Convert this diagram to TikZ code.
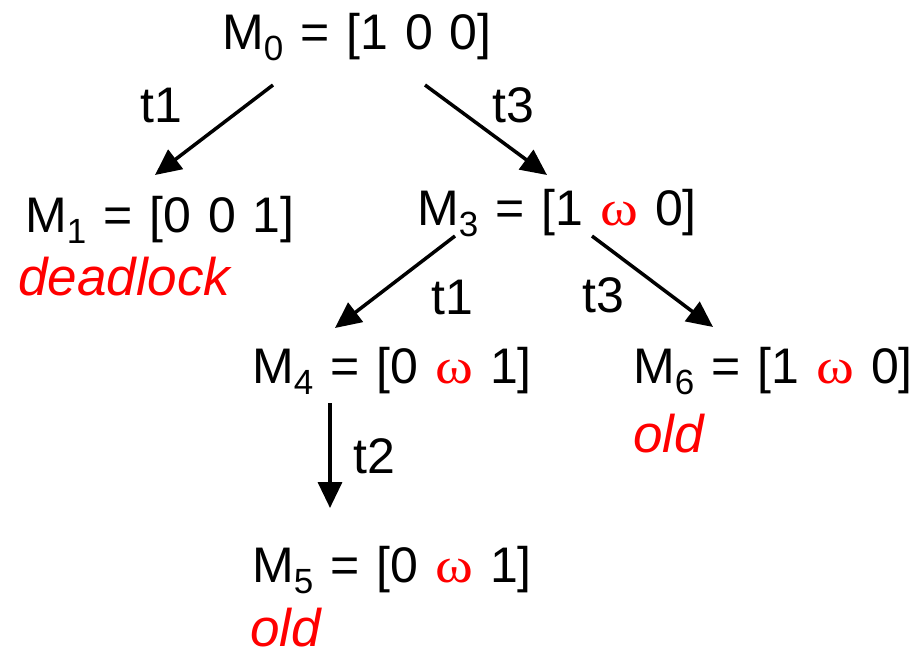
\documentclass[tikz,border=0pt]{standalone}
\usepackage{fontspec}
\setmainfont{Liberation Sans}
\newfontfamily\omegafont{Liberation Serif}
\usetikzlibrary{arrows.meta}

\newcommand{\msub}[1]{\raisebox{-11pt}{\fontsize{35}{35}\selectfont #1}}
\newcommand{\om}{{\color{red}\scalebox{1.15}[1]{\omegafont\fontsize{50}{60}\selectfont ω}}}

\begin{document}
\begin{tikzpicture}[x=1pt, y=-1pt,
    every node/.style={inner sep=0pt, anchor=base west,
      font=\fontsize{50}{60}\selectfont,
      execute at begin node={\spaceskip=17pt\relax}},
    note/.style={text=red, font=\fontsize{53}{60}\selectfont\itshape},
    arr/.style={line width=3.5pt, -{Triangle[length=26pt, width=24pt]}}]
    \useasboundingbox (0,0) rectangle (914,651);

    % Markings
    \node (M0) at (222,49) {M\msub{0} = [1 0 0]};
    \node (M1) at (25,232) {M\msub{1} = [0 0 1]};
    \node[note] (dl) at (18,295) {deadlock};
    \node (M3) at (417,225) {M\msub{3} = [1 \om{} 0]};
    \node (M4) at (252,383) {M\msub{4} = [0 \om{} 1]};
    \node (M6) at (633,383) {M\msub{6} = [1 \om{} 0]};
    \node[note] (old6) at (633,452) {old};
    \node (M5) at (252,582) {M\msub{5} = [0 \om{} 1]};
    \node[note] (old5) at (250,646) {old};

    % Arrow ends
    \coordinate (a0) at (273,85);
    \coordinate (a1) at (155,175);
    \coordinate (b0) at (425,85);
    \coordinate (b1) at (547,175);
    \coordinate (c0) at (455,236);
    \coordinate (c1) at (335,328);
    \coordinate (d0) at (592,236);
    \coordinate (d1) at (713,327);
    \coordinate (e0) at (330,403);
    \coordinate (e1) at (330,508);

    % Transitions
    \draw[arr] (a0) -- (a1);
    \draw[arr] (b0) -- (b1);
    \draw[arr] (c0) -- (c1);
    \draw[arr] (d0) -- (d1);
    \draw[arr] (e0) -- (e1);
    \node (t1a) at (140,122) {t1};
    \node (t3a) at (492,122) {t3};
    \node (t1b) at (431,314) {t1};
    \node (t3b) at (582,312) {t3};
    \node (t2) at (353,473) {t2};
\end{tikzpicture}
\end{document}
